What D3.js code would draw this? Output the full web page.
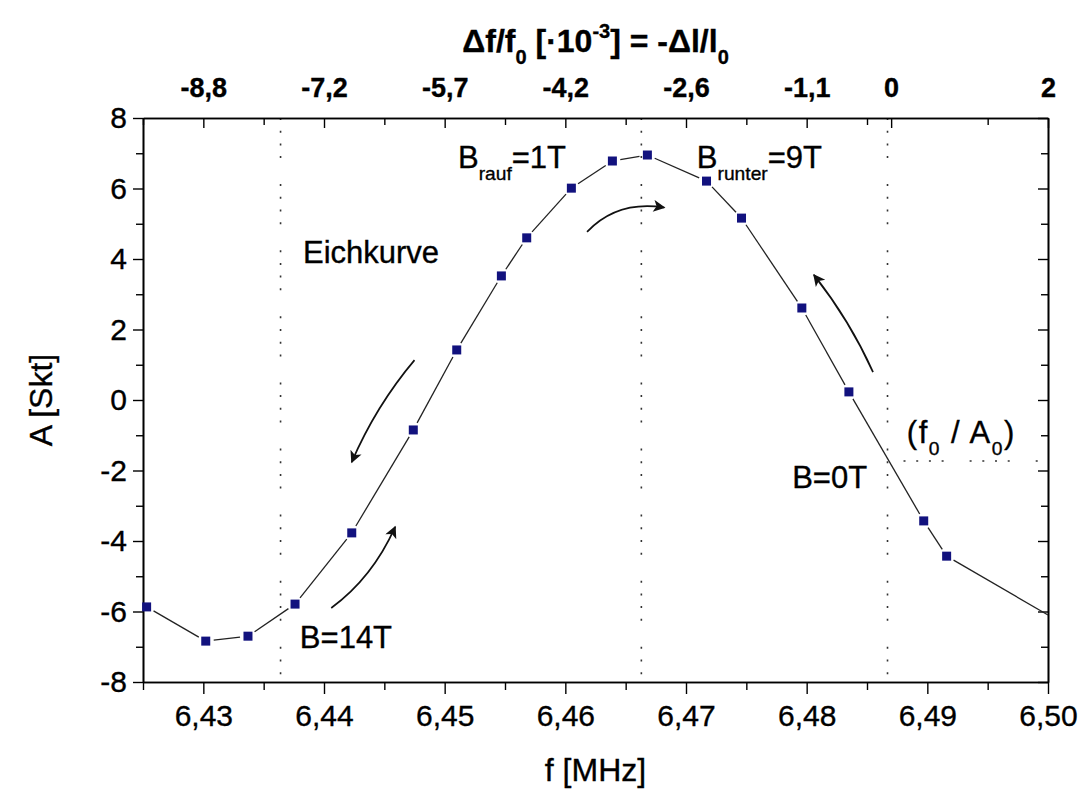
<!DOCTYPE html>
<html>
<head>
<meta charset="utf-8">
<script src="https://cdn.jsdelivr.net/npm/d3@7/dist/d3.min.js"></script>
<style>
  html, body { margin: 0; padding: 0; background: #fff; }
  svg { display: block; font-family: "Liberation Sans", Arial, sans-serif; }
  svg text { stroke: #000; stroke-width: 0.35px; }
</style>
</head>
<body>
<svg id="chart" width="1083" height="792"></svg>
<script>
// ---------- data ----------
const freq = [6.4253, 6.4302, 6.4337, 6.4376, 6.4423, 6.4474, 6.4510, 6.4547, 6.4568,
              6.4605, 6.4639, 6.4668, 6.4717, 6.4746, 6.4796, 6.4835, 6.4897, 6.4916];
const amp  = [-5.87, -6.84, -6.70, -5.79, -3.77, -0.85, 1.42, 3.52, 4.60,
              6.01, 6.78, 6.95, 6.21, 5.16, 2.61, 0.23, -3.43, -4.43];
// line continues past the last marker to the frame edge
const tailFreq = [6.50];
const tailAmp  = [-6.10];

const xTickValues = [6.43, 6.44, 6.45, 6.46, 6.47, 6.48, 6.49, 6.50];
const xTickLabels = ["6,43", "6,44", "6,45", "6,46", "6,47", "6,48", "6,49", "6,50"];
const yTickValues = [-8, -6, -4, -2, 0, 2, 4, 6, 8];
const yTickLabels = ["-8", "-6", "-4", "-2", "0", "2", "4", "6", "8"];
const topTickFreqs  = [6.43, 6.44, 6.45, 6.46, 6.47, 6.48, 6.487, 6.50];
const topTickLabels = ["-8,8", "-7,2", "-5,7", "-4,2", "-2,6", "-1,1", "0", "2"];

// reference lines (dotted)
const vLineFreqs = [6.4364, 6.4663, 6.4867];
const f0 = 6.4867, A0 = -1.73;

// ---------- layout ----------
const svg = d3.select("#chart");
const L = 143, R = 1048, T = 118, B = 682;
const x = d3.scaleLinear().domain([6.425, 6.50]).range([L, R]);
const y = d3.scaleLinear().domain([-8, 8]).range([B, T]);
const FONT = 30;

// dotted lines
const dotPattern = "2,10.7,2,10.7,2,10.7,2,26";
svg.append("g").selectAll("line").data(vLineFreqs).join("line")
  .attr("x1", d => x(d)).attr("x2", d => x(d))
  .attr("y1", T).attr("y2", B)
  .attr("stroke", "#333").attr("stroke-width", 1.6)
  .attr("stroke-dasharray", dotPattern);
svg.append("line")
  .attr("x1", x(f0) + 16).attr("x2", R)
  .attr("y1", y(A0)).attr("y2", y(A0))
  .attr("stroke", "#333").attr("stroke-width", 1.6)
  .attr("stroke-dasharray", dotPattern);

// ---------- axes ----------
const minorX = d3.range(6.425, 6.5001, 0.005).filter(v => Math.abs(Math.round(v * 100) - v * 100) > 1e-6);
const minorY = d3.range(-7, 8, 2);

function styleAxis(g) {
  g.select(".domain").attr("stroke", "#000").attr("stroke-width", 1.6);
  g.selectAll(".tick line").attr("stroke", "#000").attr("stroke-width", 1.4);
  g.selectAll("text").attr("font-family", "'Liberation Sans', Arial, sans-serif").attr("fill", "#000");
}

// bottom
svg.append("g").attr("transform", `translate(0,${B})`)
  .call(d3.axisBottom(x).tickValues(xTickValues).tickFormat((d, i) => xTickLabels[i])
        .tickSizeInner(12).tickSizeOuter(0).tickPadding(11))
  .call(styleAxis).call(g => g.selectAll("text").attr("font-size", FONT));
svg.append("g").attr("transform", `translate(0,${B})`)
  .call(d3.axisBottom(x).tickValues(minorX).tickFormat("").tickSizeInner(8).tickSizeOuter(0))
  .call(styleAxis);

// left
svg.append("g").attr("transform", `translate(${L},0)`)
  .call(d3.axisLeft(y).tickValues(yTickValues).tickFormat((d, i) => yTickLabels[i])
        .tickSizeInner(10).tickSizeOuter(0).tickPadding(6))
  .call(styleAxis).call(g => g.selectAll("text").attr("font-size", FONT));
svg.append("g").attr("transform", `translate(${L},0)`)
  .call(d3.axisLeft(y).tickValues(minorY).tickFormat("").tickSizeInner(7).tickSizeOuter(0))
  .call(styleAxis);

// top
svg.append("g").attr("transform", `translate(0,${T})`)
  .call(d3.axisTop(x).tickValues(topTickFreqs).tickFormat((d, i) => topTickLabels[i])
        .tickSizeInner(-10).tickSizeOuter(0).tickPadding(21))
  .call(styleAxis).call(g => g.selectAll("text").attr("font-size", 27).attr("font-weight", "bold"));
svg.append("g").attr("transform", `translate(0,${T})`)
  .call(d3.axisTop(x).tickValues(minorX).tickFormat("").tickSizeInner(-7).tickSizeOuter(0))
  .call(styleAxis);

// right
svg.append("g").attr("transform", `translate(${R},0)`)
  .call(d3.axisRight(y).tickValues(yTickValues).tickFormat("").tickSizeInner(-10).tickSizeOuter(0))
  .call(styleAxis);
svg.append("g").attr("transform", `translate(${R},0)`)
  .call(d3.axisRight(y).tickValues(minorY).tickFormat("").tickSizeInner(-7).tickSizeOuter(0))
  .call(styleAxis);

// ---------- data line with gaps at markers ----------
const pts = freq.map((f, i) => ({ px: x(f), py: y(amp[i]), marker: true }))
  .concat(tailFreq.map((f, i) => ({ px: x(f), py: y(tailAmp[i]), marker: false })));
const gap = 8;
const segs = d3.pairs(pts).map(([a, b]) => {
  const dx = b.px - a.px, dy = b.py - a.py, len = Math.hypot(dx, dy);
  const ux = dx / len, uy = dy / len;
  const ga = a.marker ? gap : 0, gb = b.marker ? gap : 0;
  return [[a.px + ux * ga, a.py + uy * ga], [b.px - ux * gb, b.py - uy * gb]];
});
svg.append("g").selectAll("path").data(segs).join("path")
  .attr("d", d => d3.line()(d))
  .attr("fill", "none").attr("stroke", "#222").attr("stroke-width", 1.3);

// markers
const ms = 9;
svg.append("g").selectAll("rect").data(freq).join("rect")
  .attr("x", d => x(d) - ms / 2)
  .attr("y", (d, i) => y(amp[i]) - ms / 2)
  .attr("width", ms).attr("height", ms)
  .attr("fill", "#12127e");

// ---------- arrows ----------
const defs = svg.append("defs");
defs.append("marker").attr("id", "ah")
  .attr("viewBox", "0 0 10 10").attr("refX", 9).attr("refY", 5)
  .attr("markerWidth", 17).attr("markerHeight", 12)
  .attr("markerUnits", "userSpaceOnUse").attr("orient", "auto")
  .append("path").attr("d", "M0,0 L10,5 L0,10 L2.5,5 Z").attr("fill", "#111");

// arrows in data coordinates: [tailF, tailA, ctrlF, ctrlA, headF, headA]
const arrows = [
  [6.4618, 4.77, 6.4643, 5.67, 6.4682, 5.46],
  [6.4855, 0.79, 6.4836, 2.24, 6.4806, 3.55],
  [6.4475, 1.13, 6.4443, -0.17, 6.4423, -1.76],
  [6.4406, -5.90, 6.4440, -5.05, 6.4459, -3.60]
];
svg.append("g").selectAll("path").data(arrows).join("path")
  .attr("d", d => `M${x(d[0])},${y(d[1])} Q${x(d[2])},${y(d[3])} ${x(d[4])},${y(d[5])}`)
  .attr("fill", "none").attr("stroke", "#111").attr("stroke-width", 1.7)
  .attr("marker-end", "url(#ah)");

// ---------- annotations ----------
function addText(f, a, parts, size) {
  const t = svg.append("text").attr("x", x(f)).attr("y", y(a))
    .attr("font-size", size).attr("fill", "#000");
  parts.forEach(p => {
    const ts = t.append("tspan").text(p.t);
    if (p.sub) ts.attr("font-size", size * 0.62).attr("dy", size * 0.38);
    else if (p.sup) ts.attr("font-size", size * 0.62).attr("dy", -size * 0.5);
    if (p.back) ts.attr("dy", p.back);
  });
  return t;
}
const AF = 31;
addText(6.43826, 3.89, [{ t: "Eichkurve" }], AF);
addText(6.4511, 6.58, [{ t: "B" }, { t: "rauf", sub: true }, { t: "=1T", back: -AF * 0.38 }], AF);
addText(6.4709, 6.58, [{ t: "B" }, { t: "runter", sub: true }, { t: "=9T", back: -AF * 0.38 }], AF);
addText(6.4788, -2.50, [{ t: "B=0T" }], AF);
addText(6.4380, -7.04, [{ t: "B=14T" }], AF);
addText(6.4883, -1.22, [{ t: "(f" }, { t: "0", sub: true }, { t: " / A", back: -AF * 0.38 },
                        { t: "0", sub: true }, { t: ")", back: -AF * 0.38 }], AF)
  .attr("letter-spacing", 1.5);

// axis titles
svg.append("text").attr("x", (L + R) / 2).attr("y", 781)
  .attr("text-anchor", "middle").attr("font-size", 32).text("f [MHz]");
svg.append("text").attr("transform", `translate(52,${(T + B) / 2}) rotate(-90)`)
  .attr("text-anchor", "middle").attr("font-size", 32).text("A [Skt]");

// top title
const tt = svg.append("text").attr("x", (L + R) / 2).attr("y", 52)
  .attr("text-anchor", "middle").attr("font-size", 32).attr("font-weight", "bold");
tt.append("tspan").text("Δf/f");
tt.append("tspan").text("0").attr("font-size", 20).attr("dy", 12);
tt.append("tspan").text("  [·10").attr("dy", -12);
tt.append("tspan").text("-3").attr("font-size", 20).attr("dy", -14);
tt.append("tspan").text("] = -Δl/l").attr("dy", 14);
tt.append("tspan").text("0").attr("font-size", 20).attr("dy", 12);
</script>
</body>
</html>
